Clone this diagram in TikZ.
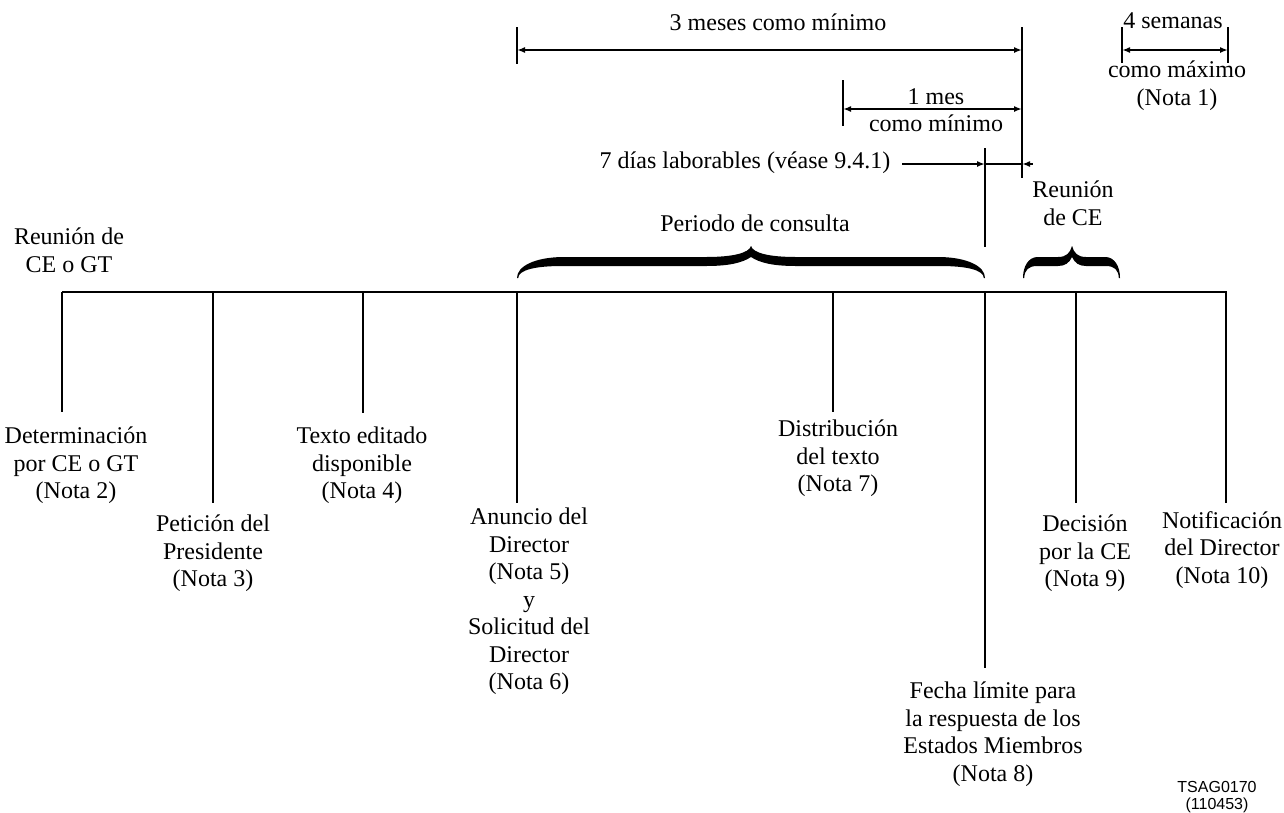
\documentclass[tikz,border=0pt]{standalone}
\usepackage{fontspec}
\setmainfont{Liberation Serif}
\newfontfamily\sfarial{Liberation Sans}
\usetikzlibrary{arrows.meta}
% half of a thick curly brace: #1 end x, #2 middle x, #3 direction (1 or -1), #4 curl length
\newcommand{\hbrace}[4]{%
  \fill (#1,278) .. controls (#1,266) and ({#1+(#3)*0.4*#4},257.5) .. ({#1+(#3)*#4},257)
    -- ({#2-(#3)*#4},257) .. controls ({#2-(#3)*0.4*#4},257) and ({#2-(#3)*2},253) .. (#2,246)
    -- (#2,257) .. controls ({#2-(#3)*0.2*#4},263) and ({#2-(#3)*0.5*#4},266) .. ({#2-(#3)*#4},266)
    -- ({#1+(#3)*#4},266) .. controls ({#1+(#3)*0.4*#4},266) and ({#1+(#3)*1.5},270) .. ({#1+(#3)*1.2},278) -- cycle;}
\begin{document}
\begin{tikzpicture}[x=1pt,y=-1pt,
  lbl/.style={font=\fontsize{24}{27.5}\selectfont, align=center, inner sep=0pt, anchor=north},
  tickline/.style={line width=1.8pt},
  axisline/.style={line width=1.3pt},
  tip/.tip={Latex[length=8pt,width=6pt]},
  dimline/.style={line width=1.8pt, tip-tip},
  ]
\useasboundingbox (0,0) rectangle (1284,812);

% ---- main time axis ----
\coordinate (mL) at (62,292);
\coordinate (mR) at (1227,292);
\draw[axisline] (mL) -- (mR);

\foreach \n/\x/\y in {1/62/412, 2/213/503, 3/363/413, 4/517/503, 5/833/412, 6/985/668, 7/1076/503, 8/1226/503}{
  \coordinate (t\n) at (\x,292);
  \coordinate (e\n) at (\x,\y);
  \draw[tickline] (t\n) -- (e\n);
}

% ---- labels below the axis ----
\node[lbl] (rgt) at (69,228) {Reunión de\\CE o GT};
\node[lbl] (l1) at (76,427) {Determinación\\por CE o GT\\(Nota 2)};
\node[lbl] (l2) at (213,515) {Petición del\\Presidente\\(Nota 3)};
\node[lbl] (l3) at (362,427) {Texto editado\\disponible\\(Nota 4)};
\node[lbl] (l4) at (529,508) {Anuncio del\\Director\\(Nota 5)\\y\\Solicitud del\\Director\\(Nota 6)};
\node[lbl] (l5) at (838,420) {Distribución\\del texto\\(Nota 7)};
\node[lbl] (l6) at (993,682) {Fecha límite para\\la respuesta de los\\Estados Miembros\\(Nota 8)};
\node[lbl] (l7) at (1085,515) {Decisión\\por la CE\\(Nota 9)};
\node[lbl] (l8) at (1222,511) {Notificación\\del Director\\(Nota 10)};

% ---- braces ----
\hbrace{517}{751}{1}{45}
\hbrace{985}{751}{-1}{45}
\hbrace{1023}{1072}{1}{14}
\hbrace{1120}{1072}{-1}{14}
\node[lbl] (pc) at (755,215) {Periodo de consulta};
\node[lbl] (rce) at (1073,181) {Reunión\\de CE};

% ---- 3 meses como minimo ----
\coordinate (a3t) at (517,27); \coordinate (a3b) at (517,64);
\draw[tickline] (a3t) -- (a3b);
\coordinate (rvt) at (1022,27); \coordinate (rvb) at (1022,178);
\draw[tickline] (rvt) -- (rvb);
\coordinate (d3L) at (517,50); \coordinate (d3R) at (1022,50);
\draw[dimline] (d3L) -- (d3R);
\node[lbl] (tm) at (778,14) {3 meses como mínimo};

% ---- 1 mes como minimo ----
\coordinate (a1t) at (843,80); \coordinate (a1b) at (843,126);
\draw[tickline] (a1t) -- (a1b);
\coordinate (d1L) at (843,109); \coordinate (d1R) at (1022,109);
\draw[dimline] (d1L) -- (d1R);
\node[lbl] (um) at (936,88) {1 mes\\como mínimo};

% ---- 7 dias laborables ----
\node[lbl] (sd) at (745,152) {7 días laborables (véase 9.4.1)};
\coordinate (s7a) at (902,164); \coordinate (s7b) at (985,164);
\coordinate (s7c) at (1022,164); \coordinate (s7d) at (1033,164);
\draw[line width=1.8pt, -tip] (s7a) -- (s7b);
\draw[line width=1.8pt] (s7b) -- (s7c);
\draw[line width=1.8pt, tip-] (s7c) -- (s7d);
\coordinate (v7t) at (985,148); \coordinate (v7b) at (985,247);
\draw[tickline] (v7t) -- (v7b);

% ---- 4 semanas como maximo ----
\coordinate (w1t) at (1122,27); \coordinate (w1b) at (1122,63);
\coordinate (w2t) at (1228,27); \coordinate (w2b) at (1228,63);
\draw[tickline] (w1t) -- (w1b);
\draw[tickline] (w2t) -- (w2b);
\coordinate (dwL) at (1122,50); \coordinate (dwR) at (1228,50);
\draw[dimline] (dwL) -- (dwR);
\node[lbl] (cs) at (1173,12) {4 semanas};
\node[lbl] (cm) at (1177,61) {como máximo\\(Nota 1)};

% ---- figure id ----
\node[font=\sfarial\fontsize{16}{17}\selectfont, align=center, inner sep=0pt, anchor=north] (fid) at (1217,781) {TSAG0170\\(110453)};
\end{tikzpicture}
\end{document}
